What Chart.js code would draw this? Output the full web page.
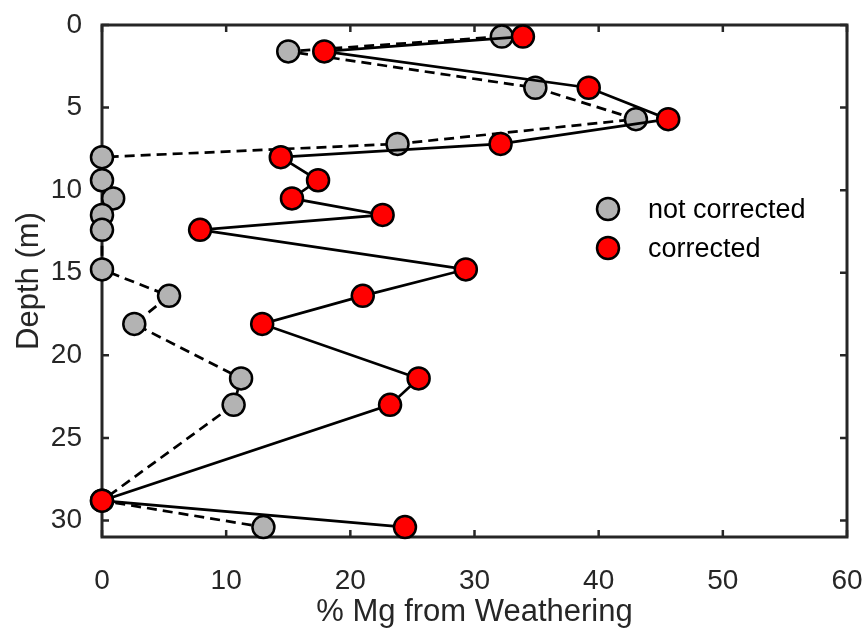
<!DOCTYPE html>
<html><head><meta charset="utf-8">
<script src="https://cdn.jsdelivr.net/npm/chart.js@4.4.1/dist/chart.umd.min.js"></script>
<style>html,body{margin:0;padding:0;background:#fff;overflow:hidden}</style>
</head><body>
<canvas id="c" width="867" height="632"></canvas>
<script>
// ---- data ----
const depth        = [0.7, 1.6, 3.8, 5.7, 7.2, 8.0, 9.4, 10.5, 11.5, 12.4, 14.8, 16.4, 18.1, 21.4, 23.0, 28.8, 30.4];
const notCorrected = [32.2, 15.0, 34.9, 43.0, 23.8, 0, 0, 0.9, 0, 0, 0, 5.4, 2.6, 11.2, 10.6, 0, 13.0];
const corrected    = [33.9, 17.9, 39.2, 45.6, 32.1, 14.4, 17.4, 15.3, 22.6, 7.9, 29.3, 21.0, 12.9, 25.5, 23.2, 0, 24.4];
const seriesNames  = ['not corrected', 'corrected'];
const xTickValues  = [0, 10, 20, 30, 40, 50, 60];
const yTickValues  = [0, 5, 10, 15, 20, 25, 30];
const xTitle = '% Mg from Weathering';
const yTitle = 'Depth (m)';

const AX = '#262626';
const FONT = "'Liberation Sans', Arial, sans-serif";
const GRAY = '#b3b3b3';
const RED = '#ff0000';

const toPts = (xs) => xs.map((v, i) => ({x: v, y: depth[i]}));

const framePlugin = {
  id: 'frame',
  beforeDatasetsDraw(chart) {
    const {ctx, chartArea: a, scales: {x, y}} = chart;
    ctx.save();
    ctx.strokeStyle = AX;
    ctx.lineWidth = 2.5;
    const tl = 7;
    ctx.beginPath();
    x.ticks.forEach(t => {
      const px = x.getPixelForValue(t.value);
      ctx.moveTo(px, a.bottom); ctx.lineTo(px, a.bottom - tl);
      ctx.moveTo(px, a.top); ctx.lineTo(px, a.top + tl);
    });
    y.ticks.forEach(t => {
      const py = y.getPixelForValue(t.value);
      ctx.moveTo(a.left, py); ctx.lineTo(a.left + tl, py);
      ctx.moveTo(a.right, py); ctx.lineTo(a.right - tl, py);
    });
    ctx.stroke();
    ctx.lineWidth = 3;
    ctx.strokeRect(a.left, a.top, a.right - a.left, a.bottom - a.top);
    ctx.restore();
  }
};

const legendPlugin = {
  id: 'customLegend',
  afterDraw(chart) {
    const {ctx, chartArea: a} = chart;
    const mx = a.left + 506, tx = a.left + 546;
    const rows = [{y: a.top + 184, fill: GRAY, label: seriesNames[0]},
                  {y: a.top + 223, fill: RED, label: seriesNames[1]}];
    ctx.save();
    rows.forEach(r => {
      ctx.beginPath();
      ctx.arc(mx, r.y, 11, 0, Math.PI * 2);
      ctx.fillStyle = r.fill; ctx.fill();
      ctx.lineWidth = 2.5; ctx.strokeStyle = '#000'; ctx.stroke();
      ctx.fillStyle = '#000';
      ctx.font = "27px " + FONT;
      ctx.textAlign = 'left'; ctx.textBaseline = 'middle';
      ctx.fillText(r.label, tx, r.y + 2);
    });
    ctx.restore();
  }
};

new Chart(document.getElementById('c'), {
  type: 'scatter',
  data: {
    datasets: [
      {
        label: seriesNames[0], data: toPts(notCorrected), showLine: true,
        borderColor: '#000', borderWidth: 2.7, borderDash: [10, 6],
        pointBackgroundColor: GRAY, pointBorderColor: '#000', pointBorderWidth: 2.5,
        pointRadius: 11, pointHoverRadius: 11, order: 2, clip: false
      },
      {
        label: seriesNames[1], data: toPts(corrected), showLine: true,
        borderColor: '#000', borderWidth: 2.7,
        pointBackgroundColor: RED, pointBorderColor: '#000', pointBorderWidth: 2.5,
        pointRadius: 11, pointHoverRadius: 11, order: 1, clip: false
      }
    ]
  },
  options: {
    responsive: false, animation: false, devicePixelRatio: 1,
    layout: {padding: {left: 0, right: 20, top: 25, bottom: 0}},
    plugins: {legend: {display: false}, tooltip: {enabled: false}},
    scales: {
      x: {
        type: 'linear', min: 0, max: 60,
        afterBuildTicks: s => { s.ticks = xTickValues.map(v => ({value: v})); },
        afterFit: s => { s.height = 95; s.paddingLeft = 0; s.paddingRight = 0; },
        grid: {display: false}, border: {display: false},
        ticks: {color: AX, font: {family: FONT, size: 28}, padding: 19, maxRotation: 0},
        title: {display: true, text: xTitle, color: AX, font: {family: FONT, size: 31}, padding: {top: 0, bottom: 1}}
      },
      y: {
        type: 'linear', min: 0, max: 31, reverse: true,
        afterBuildTicks: s => { s.ticks = yTickValues.map(v => ({value: v})); },
        afterFit: s => { s.width = 102; s.paddingTop = 0; s.paddingBottom = 0; },
        grid: {display: false}, border: {display: false},
        ticks: {color: AX, font: {family: FONT, size: 28}, padding: 12},
        title: {display: true, text: yTitle, color: AX, font: {family: FONT, size: 31}, padding: {top: 11, bottom: 0}}
      }
    }
  },
  plugins: [framePlugin, legendPlugin]
});
</script>
</body></html>
